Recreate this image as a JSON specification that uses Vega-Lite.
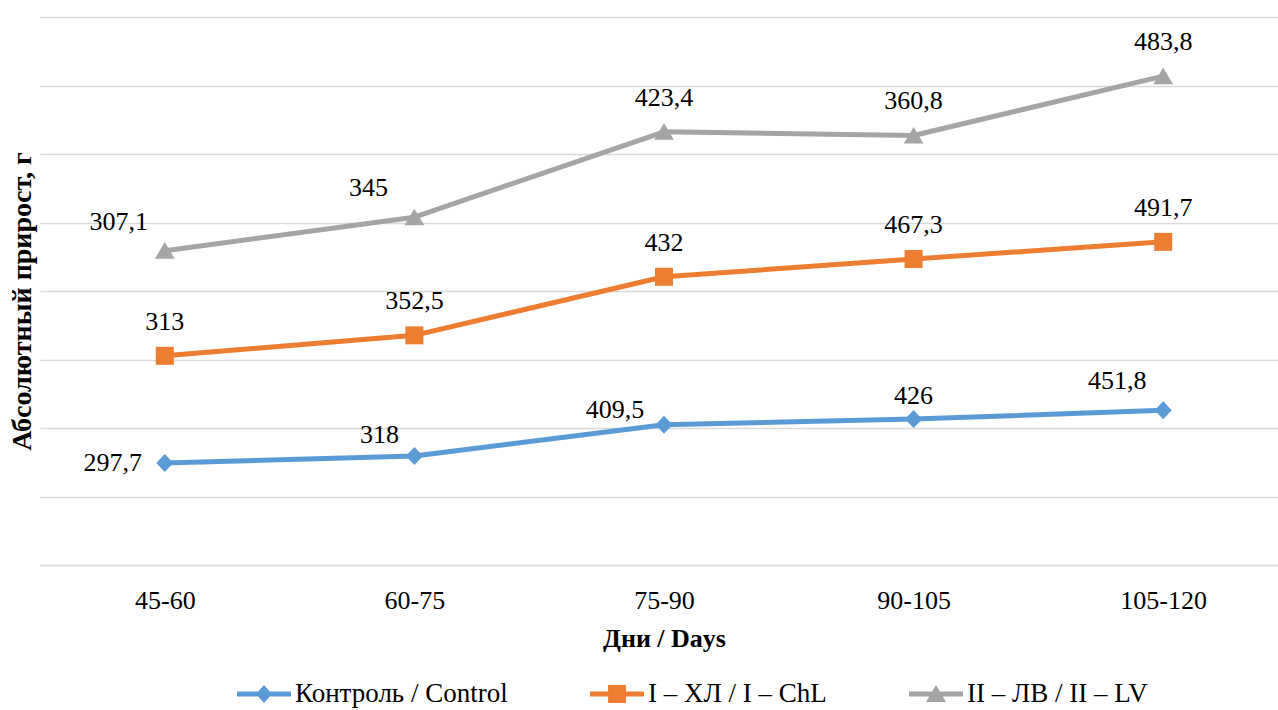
{
  "$schema": "https://vega.github.io/schema/vega-lite/v6.json",
  "autosize": {"type": "none"},
  "padding": {"left": 40, "top": 17, "right": 0, "bottom": 145},
  "width": 1248,
  "height": 548,
  "background": "white",
  "config": {
    "font": "Liberation Serif",
    "text": {"font": "Liberation Serif", "fontSize": 26},
    "axis": {"labelFont": "Liberation Serif", "titleFont": "Liberation Serif"},
    "legend": {"labelFont": "Liberation Serif"},
    "locale": {"number": {"decimal": ",", "thousands": " ", "grouping": [3], "currency": ["", ""]}},
    "view": {"stroke": null}
  },
  "data": {
    "values": [
      {"days": "45-60", "series": "Контроль / Control", "idx": 1, "value": 297.7},
      {"days": "60-75", "series": "Контроль / Control", "idx": 1, "value": 318},
      {"days": "75-90", "series": "Контроль / Control", "idx": 1, "value": 409.5},
      {"days": "90-105", "series": "Контроль / Control", "idx": 1, "value": 426},
      {"days": "105-120", "series": "Контроль / Control", "idx": 1, "value": 451.8},
      {"days": "45-60", "series": "I – ХЛ / I – ChL", "idx": 2, "value": 313},
      {"days": "60-75", "series": "I – ХЛ / I – ChL", "idx": 2, "value": 352.5},
      {"days": "75-90", "series": "I – ХЛ / I – ChL", "idx": 2, "value": 432},
      {"days": "90-105", "series": "I – ХЛ / I – ChL", "idx": 2, "value": 467.3},
      {"days": "105-120", "series": "I – ХЛ / I – ChL", "idx": 2, "value": 491.7},
      {"days": "45-60", "series": "II – ЛВ / II – LV", "idx": 3, "value": 307.1},
      {"days": "60-75", "series": "II – ЛВ / II – LV", "idx": 3, "value": 345},
      {"days": "75-90", "series": "II – ЛВ / II – LV", "idx": 3, "value": 423.4},
      {"days": "90-105", "series": "II – ЛВ / II – LV", "idx": 3, "value": 360.8},
      {"days": "105-120", "series": "II – ЛВ / II – LV", "idx": 3, "value": 483.8}
    ]
  },
  "transform": [
    {"stack": "value", "groupby": ["days"], "sort": [{"field": "idx", "order": "ascending"}], "as": ["lo", "hi"]}
  ],
  "encoding": {
    "x": {
      "field": "days",
      "type": "ordinal",
      "sort": ["45-60", "60-75", "75-90", "90-105", "105-120"],
      "axis": {
        "title": "Дни / Days",
        "titleFontSize": 26,
        "titleFontWeight": "bold",
        "titleColor": "#000000",
        "titlePadding": 12,
        "labelFontSize": 26,
        "labelColor": "#000000",
        "labelAngle": 0,
        "labelPadding": 22,
        "ticks": false,
        "domain": true,
        "domainColor": "#d9d9d9",
        "domainWidth": 1.5,
        "grid": false
      }
    },
    "y": {
      "field": "hi",
      "type": "quantitative",
      "scale": {"domain": [0, 1600], "nice": false},
      "axis": {
        "title": "Абсолютный прирост, г",
        "titleFontSize": 28,
        "titleFontWeight": "bold",
        "titleColor": "#000000",
        "titleAngle": -90,
        "titleAlign": "center",
        "titleBaseline": "middle",
        "titleX": -18,
        "titleY": 284,
        "labels": false,
        "ticks": false,
        "domain": false,
        "grid": true,
        "gridColor": "#d9d9d9",
        "gridWidth": 1.5,
        "values": [0, 200, 400, 600, 800, 1000, 1200, 1400, 1600]
      }
    },
    "color": {
      "field": "series",
      "type": "nominal",
      "scale": {
        "domain": ["Контроль / Control", "I – ХЛ / I – ChL", "II – ЛВ / II – LV"],
        "range": ["#5b9bd5", "#ed7d31", "#a5a5a5"]
      },
      "legend": null
    }
  },
  "layer": [
    {
      "mark": {"type": "line", "strokeWidth": 5, "strokeCap": "round", "strokeJoin": "round"},
      "encoding": {
        "color": {
          "field": "series",
          "type": "nominal",
          "scale": {
            "domain": ["Контроль / Control", "I – ХЛ / I – ChL", "II – ЛВ / II – LV"],
            "range": ["#5b9bd5", "#ed7d31", "#a5a5a5"]
          },
          "legend": {
            "title": null,
            "orient": "none",
            "direction": "horizontal",
            "legendX": 197,
            "legendY": 650,
            "symbolSize": 2916,
            "symbolStrokeWidth": 0,
            "labelFontSize": 27,
            "labelColor": "#000000",
            "labelOffset": 4,
            "columnPadding": 82,
            "labelLimit": 400,
            "encode": {
              "symbols": {
                "update": {
                  "fill": {"scale": "color", "field": "value"},
                  "strokeWidth": {"value": 0},
                  "opacity": {"value": 1},
                  "shape": {"signal": "datum.index === 0 ? 'M-1,-0.09L1,-0.09L1,0.09L-1,0.09Z M0,-0.33L0.3,0L0,0.33L-0.3,0Z' : datum.index === 1 ? 'M-1,-0.09L1,-0.09L1,0.09L-1,0.09Z M-0.33,-0.33L0.33,-0.33L0.33,0.33L-0.33,0.33Z' : 'M-1,-0.09L1,-0.09L1,0.09L-1,0.09Z M0,-0.33L0.37,0.3L-0.37,0.3Z'"}
                }
              }
            }
          }
        }
      }
    },
    {
      "mark": {"type": "point", "filled": true, "opacity": 1, "size": 324, "strokeWidth": 0},
      "encoding": {
        "shape": {
          "field": "idx",
          "type": "nominal",
          "scale": {
            "domain": [1, 2, 3],
            "range": ["M0,-1L0.95,0L0,1L-0.95,0Z", "M-1,-1L1,-1L1,1L-1,1Z", "M0,-0.95L1.1,0.9L-1.1,0.9Z"]
          },
          "legend": null
        }
      }
    },
    {
      "transform": [
        {"filter": "datum.idx === 2 || (datum.idx === 3 && indexof(['75-90','90-105','105-120'], datum.days) >= 0)"}
      ],
      "mark": {"type": "text", "fontSize": 26, "dy": -34, "baseline": "middle"},
      "encoding": {"text": {"field": "value", "type": "quantitative", "format": ".1~f"}, "color": {"value": "#000000"}}
    },
    {
      "transform": [
        {"filter": "(datum.idx === 3 && indexof(['45-60','60-75'], datum.days) >= 0) || (datum.idx === 1 && datum.days === '105-120')"}
      ],
      "mark": {"type": "text", "fontSize": 26, "dx": -46, "dy": -29, "baseline": "middle"},
      "encoding": {"text": {"field": "value", "type": "quantitative", "format": ".1~f"}, "color": {"value": "#000000"}}
    },
    {
      "transform": [{"filter": "datum.idx === 1 && datum.days === '60-75'"}],
      "mark": {"type": "text", "fontSize": 26, "dx": -35, "dy": -21, "baseline": "middle"},
      "encoding": {"text": {"field": "value", "type": "quantitative", "format": ".1~f"}, "color": {"value": "#000000"}}
    },
    {
      "transform": [{"filter": "datum.idx === 1 && datum.days === '90-105'"}],
      "mark": {"type": "text", "fontSize": 26, "dy": -23, "baseline": "middle"},
      "encoding": {"text": {"field": "value", "type": "quantitative", "format": ".1~f"}, "color": {"value": "#000000"}}
    },
    {
      "transform": [{"filter": "datum.idx === 1 && datum.days === '75-90'"}],
      "mark": {"type": "text", "fontSize": 26, "dx": -49, "dy": -15, "baseline": "middle"},
      "encoding": {"text": {"field": "value", "type": "quantitative", "format": ".1~f"}, "color": {"value": "#000000"}}
    },
    {
      "transform": [{"filter": "datum.idx === 1 && datum.days === '45-60'"}],
      "mark": {"type": "text", "fontSize": 26, "dx": -52, "dy": 0, "baseline": "middle"},
      "encoding": {"text": {"field": "value", "type": "quantitative", "format": ".1~f"}, "color": {"value": "#000000"}}
    }
  ]
}
